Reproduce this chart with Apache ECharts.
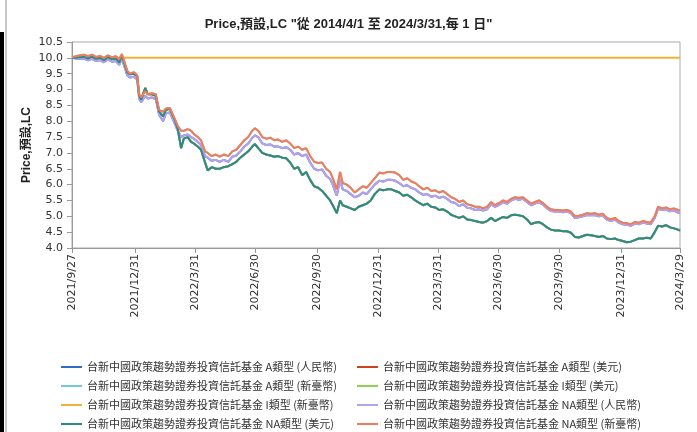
<!DOCTYPE html>
<html><head><meta charset="utf-8">
<script src="https://cdn.jsdelivr.net/npm/echarts@6/dist/echarts.min.js"></script>
<style>html,body{margin:0;padding:0;background:#fff}#c{width:697px;height:432px}</style>
</head><body><div id="c"></div>
<script>
const dates = [
'2021-09-27','2021-10-03','2021-10-09','2021-10-15','2021-10-21','2021-10-27','2021-11-02','2021-11-08','2021-11-14','2021-11-20',
'2021-11-26','2021-12-02','2021-12-07','2021-12-11','2021-12-14','2021-12-19','2021-12-23','2021-12-29','2022-01-03','2022-01-06',
'2022-01-09','2022-01-15','2022-01-19','2022-01-25','2022-01-31','2022-02-05','2022-02-11','2022-02-15','2022-02-21','2022-02-24',
'2022-03-01','2022-03-05','2022-03-10','2022-03-14','2022-03-20','2022-03-25','2022-03-29','2022-04-04','2022-04-09','2022-04-15',
'2022-04-19','2022-04-25','2022-05-01','2022-05-07','2022-05-13','2022-05-20','2022-05-26','2022-06-01','2022-06-07','2022-06-13',
'2022-06-19','2022-06-25','2022-06-29','2022-07-04','2022-07-10','2022-07-16','2022-07-22','2022-07-28','2022-08-03','2022-08-09',
'2022-08-15','2022-08-21','2022-08-27','2022-09-02','2022-09-08','2022-09-14','2022-09-20','2022-09-26','2022-10-02','2022-10-08',
'2022-10-14','2022-10-20','2022-10-24','2022-10-30','2022-11-04','2022-11-08','2022-11-14','2022-11-20','2022-11-26','2022-12-02',
'2022-12-08','2022-12-14','2022-12-20','2022-12-26','2023-01-02','2023-01-08','2023-01-14','2023-01-20','2023-01-26','2023-02-01',
'2023-02-07','2023-02-13','2023-02-19','2023-02-25','2023-03-03','2023-03-09','2023-03-15','2023-03-21','2023-03-27','2023-04-02',
'2023-04-08','2023-04-14','2023-04-20','2023-04-26','2023-05-02','2023-05-08','2023-05-14','2023-05-20','2023-05-26','2023-06-01',
'2023-06-07','2023-06-13','2023-06-19','2023-06-25','2023-07-01','2023-07-07','2023-07-13','2023-07-19','2023-07-25','2023-07-31',
'2023-08-06','2023-08-12','2023-08-18','2023-08-24','2023-08-30','2023-09-05','2023-09-11','2023-09-17','2023-09-23','2023-09-29',
'2023-10-05','2023-10-11','2023-10-17','2023-10-23','2023-10-29','2023-11-04','2023-11-10','2023-11-16','2023-11-22','2023-11-28',
'2023-12-04','2023-12-10','2023-12-16','2023-12-22','2023-12-28','2024-01-03','2024-01-09','2024-01-15','2024-01-21','2024-01-27',
'2024-02-02','2024-02-08','2024-02-14','2024-02-20','2024-02-25','2024-03-02','2024-03-08','2024-03-14','2024-03-20','2024-03-26',
'2024-03-29'
];
// NA類型 (新臺幣) - orange
const naTwd = [
10.02,10.05,10.08,10.10,10.05,10.10,10.03,10.06,10.00,10.08,
10.02,10.05,9.95,10.12,10.10,9.60,9.50,9.55,9.45,8.85,
8.75,8.95,8.85,8.88,8.85,8.35,8.30,8.40,8.42,8.45,
8.05,7.85,7.70,7.70,7.75,7.70,7.60,7.50,7.40,7.05,
7.00,6.90,6.95,6.88,6.95,6.90,7.05,7.10,7.25,7.40,
7.50,7.70,7.78,7.70,7.50,7.45,7.48,7.40,7.42,7.35,
7.40,7.30,7.15,7.20,7.10,7.15,6.90,6.72,6.68,6.70,
6.50,6.40,6.20,5.85,6.40,6.05,6.00,5.90,5.75,5.85,
5.95,5.90,6.05,6.20,6.38,6.35,6.40,6.40,6.38,6.30,
6.15,6.20,6.10,6.05,5.95,5.85,5.90,5.80,5.82,5.75,
5.80,5.70,5.60,5.55,5.45,5.50,5.38,5.35,5.30,5.30,
5.25,5.30,5.45,5.35,5.42,5.50,5.45,5.55,5.60,5.58,
5.60,5.50,5.40,5.45,5.50,5.42,5.30,5.22,5.20,5.20,
5.18,5.20,5.15,5.00,5.02,5.05,5.10,5.08,5.10,5.05,
5.08,4.95,4.90,4.95,4.85,4.80,4.78,4.75,4.82,4.80,
4.85,4.82,4.80,5.00,5.30,5.25,5.28,5.22,5.25,5.20,
5.18
];
// NA類型 (人民幣) - purple
const naRmb = [
10.00,9.98,9.97,9.98,9.92,9.97,9.90,9.93,9.86,9.95,
9.88,9.90,9.78,9.98,9.96,9.45,9.38,9.40,9.32,8.72,
8.60,8.80,8.72,8.75,8.70,8.20,8.00,8.25,8.28,8.30,
7.90,7.70,7.50,7.55,7.58,7.50,7.45,7.35,7.25,6.90,
6.85,6.75,6.78,6.72,6.78,6.72,6.88,6.92,7.05,7.20,
7.30,7.48,7.55,7.50,7.30,7.25,7.27,7.20,7.20,7.15,
7.18,7.10,6.95,7.00,6.90,6.95,6.70,6.50,6.45,6.48,
6.28,6.18,6.00,5.65,6.15,5.85,5.80,5.70,5.60,5.65,
5.75,5.70,5.85,6.00,6.12,6.10,6.15,6.15,6.12,6.05,
5.95,5.98,5.90,5.85,5.75,5.68,5.70,5.62,5.65,5.58,
5.62,5.55,5.45,5.42,5.32,5.38,5.27,5.25,5.20,5.22,
5.18,5.22,5.38,5.30,5.36,5.44,5.40,5.50,5.55,5.52,
5.55,5.45,5.35,5.40,5.44,5.37,5.25,5.17,5.15,5.15,
5.13,5.15,5.10,4.95,4.97,5.00,5.04,5.03,5.04,5.00,
5.02,4.90,4.85,4.90,4.80,4.75,4.73,4.70,4.77,4.75,
4.80,4.77,4.75,4.95,5.24,5.20,5.22,5.16,5.18,5.12,
5.10
];
// NA類型 (美元) - teal
const naUsd = [
10.00,10.00,10.02,10.03,9.98,10.04,9.97,10.00,9.93,10.02,
9.96,9.98,9.85,10.06,10.05,9.55,9.48,9.50,9.42,8.80,
8.68,9.05,8.85,8.85,8.80,8.30,8.15,8.35,8.40,8.38,
8.00,7.75,7.15,7.45,7.50,7.35,7.30,7.20,7.10,6.70,
6.45,6.55,6.50,6.50,6.55,6.58,6.65,6.72,6.85,6.95,
7.05,7.20,7.28,7.15,7.00,6.95,6.92,6.88,6.90,6.85,
6.83,6.70,6.50,6.55,6.30,6.40,6.15,5.95,5.90,5.80,
5.65,5.50,5.35,5.10,5.50,5.35,5.30,5.25,5.20,5.30,
5.35,5.40,5.50,5.70,5.85,5.82,5.85,5.85,5.80,5.75,
5.65,5.68,5.60,5.50,5.42,5.35,5.40,5.30,5.28,5.20,
5.22,5.15,5.05,5.00,4.95,5.00,4.90,4.88,4.85,4.82,
4.80,4.85,4.95,4.85,4.92,4.98,4.95,5.03,5.05,5.03,
5.00,4.90,4.75,4.80,4.82,4.75,4.65,4.58,4.55,4.55,
4.53,4.53,4.48,4.35,4.33,4.38,4.42,4.40,4.38,4.35,
4.38,4.30,4.28,4.30,4.25,4.22,4.18,4.20,4.25,4.30,
4.30,4.32,4.30,4.50,4.70,4.68,4.72,4.65,4.62,4.58,
4.55
];
// I類型 (新臺幣) - flat
const iTwdDates = ['2021-09-27','2024-03-29'];
const iTwd = [10.0, 10.0];

const tickLabels = ['2021/9/27','2021/12/31','2022/3/31','2022/6/30','2022/9/30','2022/12/31','2023/3/31','2023/6/30','2023/9/30','2023/12/31','2024/3/29'];
const yTicks = [4.0,4.5,5.0,5.5,6.0,6.5,7.0,7.5,8.0,8.5,9.0,9.5,10.0,10.5];

const fund = '台新中國政策趨勢證券投資信託基金 ';
const names = [
  fund+'A類型 (人民幣)', fund+'A類型 (美元)',
  fund+'A類型 (新臺幣)', fund+'I類型 (美元)',
  fund+'I類型 (新臺幣)', fund+'NA類型 (人民幣)',
  fund+'NA類型 (美元)', fund+'NA類型 (新臺幣)'
];
const colors = ['#2f6ec2','#c9441c','#72c8dc','#8fd14f','#f2b233','#b6a1ef','#2b8b8c','#f47b56'];

function ts(s){ const p = s.split(/[-\/]/).map(Number); return Date.UTC(p[0], p[1]-1, p[2]) / 86400000; }
function fmtDay(v){ const d = new Date(Math.round(v) * 86400000); return d.getUTCFullYear()+'/'+(d.getUTCMonth()+1)+'/'+d.getUTCDate(); }
function pair(ds, vals){ return ds.map((d,i)=>[ts(d), vals[i]]); }

const seriesData = [
  pair(dates, naRmb), pair(dates, naUsd), pair(dates, naTwd), pair(dates, naUsd),
  pair(iTwdDates, iTwd), pair(dates, naRmb), pair(dates, naUsd), pair(dates, naTwd)
];
const tickDays = tickLabels.map(ts);

const chart = echarts.init(document.getElementById('c'), null, {renderer:'canvas'});
const legendText = {fontFamily:'"Noto Sans CJK TC", sans-serif', fontSize:11, color:'#333', lineHeight:14};
chart.setOption({
  animation:false,
  backgroundColor:'#fff',
  title:{
    text:'Price,預設,LC "從 2014/4/1 至 2024/3/31,每 1 日"',
    left:'center', top:13,
    textStyle:{fontFamily:'"Liberation Sans", "Noto Sans CJK TC", sans-serif', fontWeight:'bold', fontSize:13, color:'#222'}
  },
  grid:{left:72, right:17, top:42, bottom:184, show:true, borderColor:'#aaa', borderWidth:1},
  xAxis:{
    type:'value', min:tickDays[0], max:tickDays[tickDays.length-1],
    axisLine:{show:true, lineStyle:{color:'#999'}},
    axisTick:{show:true, length:5, lineStyle:{color:'#999'}, customValues:tickDays},
    axisLabel:{
      customValues:tickDays, rotate:90, margin:6, showMinLabel:true, showMaxLabel:true,
      fontFamily:'"DejaVu Sans", sans-serif', fontSize:11, color:'#333',
      formatter:fmtDay
    },
    splitLine:{show:false}
  },
  yAxis:{
    type:'value', min:yTicks[0], max:yTicks[yTicks.length-1], interval:0.5,
    name:'Price,預設,LC', nameLocation:'middle', nameGap:39, nameMoveOverlap:false,
    nameTextStyle:{fontFamily:'"Liberation Sans", "Noto Sans CJK TC", sans-serif', fontWeight:'bold', fontSize:12, color:'#222'},
    axisLine:{show:true, lineStyle:{color:'#999'}},
    axisTick:{show:true, length:5, lineStyle:{color:'#999'}},
    axisLabel:{margin:9, fontFamily:'"DejaVu Sans", sans-serif', fontSize:11, color:'#333', formatter:v=>v.toFixed(1)},
    splitLine:{show:false}
  },
  legend:[
    {orient:'vertical', left:61, top:360, padding:0, itemGap:5, icon:'rect', itemWidth:21, itemHeight:2,
     data:[names[0],names[2],names[4],names[6]], textStyle:legendText},
    {orient:'vertical', left:357, top:360, padding:0, itemGap:5, icon:'rect', itemWidth:21, itemHeight:2,
     data:[names[1],names[3],names[5],names[7]], textStyle:legendText}
  ],
  graphic:[
    {type:'rect', shape:{x:5, y:0, width:2, height:432}, style:{fill:'#c8c8c8'}, silent:true},
    {type:'rect', shape:{x:0, y:32, width:4, height:400}, style:{fill:'#000'}, silent:true}
  ],
  series:names.map((n,i)=>({
    name:n, type:'line', data:seriesData[i], showSymbol:false, symbol:'none',
    lineStyle:{width:2, color:colors[i]}, itemStyle:{color:colors[i]}, z:2+i
  }))
});
</script></body></html>
